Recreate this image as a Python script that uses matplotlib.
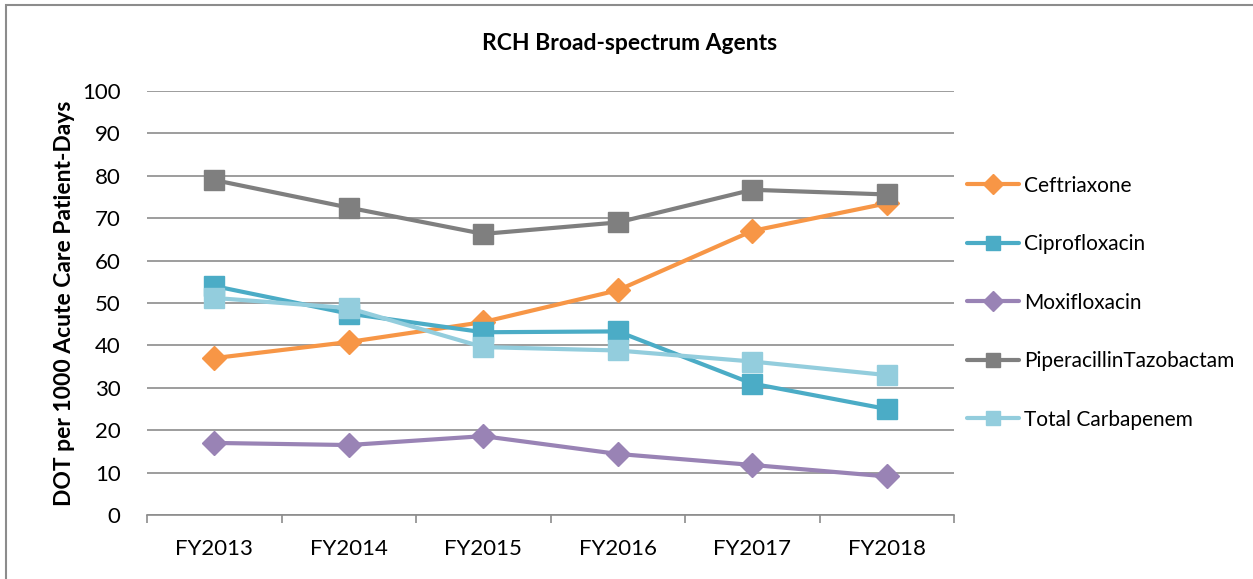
import matplotlib.pyplot as plt
from matplotlib.patches import Rectangle

plt.rcParams['font.family'] = ['Lato', 'DejaVu Sans']

years = ['FY2013', 'FY2014', 'FY2015', 'FY2016', 'FY2017', 'FY2018']
ceftriaxone = [37.0, 40.8, 45.5, 53.0, 67.0, 73.5]
ciprofloxacin = [54.0, 47.5, 43.1, 43.3, 31.0, 25.0]
moxifloxacin = [17.0, 16.5, 18.6, 14.4, 11.8, 9.1]
pip_tazo = [79.0, 72.5, 66.3, 69.0, 76.7, 75.6]
carbapenem = [51.2, 48.8, 39.6, 38.8, 36.2, 33.0]

series = [
    ('Ceftriaxone', ceftriaxone, '#F79646', 'D', 12),
    ('Ciprofloxacin', ciprofloxacin, '#4BACC6', 's', 14),
    ('Moxifloxacin', moxifloxacin, '#9983B5', 'D', 12),
    ('PiperacillinTazobactam', pip_tazo, '#7F7F7F', 's', 14),
    ('Total Carbapenem', carbapenem, '#93CDDD', 's', 14),
]

fig = plt.figure(figsize=(12.53, 5.79), dpi=100)
# chart frame
fig.patches.append(Rectangle((6 / 1253, -0.05), 1.2, 1 - 5 / 579 + 0.05,
                             transform=fig.transFigure, fill=False,
                             edgecolor='#8C8C8C', linewidth=1.5))

ax = fig.add_axes([147 / 1253, 1 - 515 / 579, (954 - 147) / 1253, (515 - 91) / 579])
x = list(range(len(years)))
for name, vals, color, marker, ms in series:
    ax.plot(x, vals, color=color, linewidth=3, marker=marker, markersize=ms,
            label=name, solid_capstyle='round', solid_joinstyle='round')

ax.set_xlim(-0.5, len(years) - 0.5)
ax.set_ylim(0, 100)
ax.set_yticks(range(0, 101, 10))
ax.set_xticks(x)
ax.set_xticklabels(years)
ax.set_xticks([i - 0.5 for i in range(len(years) + 1)], minor=True)
ax.tick_params(axis='x', which='major', length=0, pad=17, labelsize=16)
ax.tick_params(axis='x', which='minor', length=6, color='#8C8C8C', width=1.2)
ax.tick_params(axis='y', length=0, pad=19, labelsize=16)
ax.grid(axis='y', color='#8C8C8C', linewidth=1.2)
ax.set_axisbelow(True)
for s in ['top', 'right', 'left']:
    ax.spines[s].set_visible(False)
ax.spines['bottom'].set_color('#8C8C8C')
ax.spines['bottom'].set_linewidth(1.2)

ax.set_ylabel('DOT per 1000 Acute Care Patient-Days', fontsize=16.5,
              fontweight='bold', labelpad=5)
fig.text(630 / 1253, 1 - 43 / 579, 'RCH Broad-spectrum Agents', ha='center',
         va='center', fontsize=16.5, fontweight='bold')

leg = ax.legend(loc='upper left', bbox_to_anchor=(1.0, 0.83), frameon=False,
                fontsize=15, handlelength=2.5, labelspacing=1.85,
                handletextpad=0.25, borderaxespad=0.2)
for h in leg.legend_handles:
    h.set_markersize(10)

fig.savefig('out.png', dpi=100)
